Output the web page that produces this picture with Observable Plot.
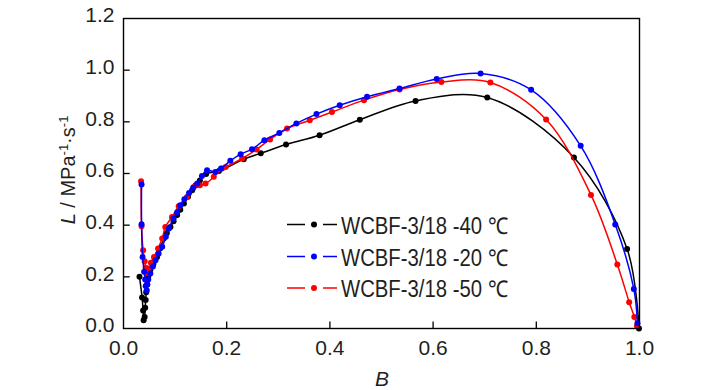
<!DOCTYPE html>
<html>
<head>
<meta charset="utf-8">
<script src="https://cdn.jsdelivr.net/npm/d3@7"></script>
<script src="https://cdn.jsdelivr.net/npm/@observablehq/plot@0.6"></script>
<style>
  body { margin: 0; background: white; }
  svg text { font-family: "Liberation Sans", Arial, sans-serif; }
</style>
</head>
<body>
<div id="chart"></div>
<script>
// ---- data ----
const seriesNames = ["WCBF-3/18 -40 ℃", "WCBF-3/18 -20 ℃", "WCBF-3/18 -50 ℃"];
const seriesColors = ["#000000", "#0000ff", "#ff0000"];

const black40 = [
  [0.031,0.200],[0.036,0.120],[0.038,0.070],[0.039,0.032],[0.041,0.045],[0.042,0.080],
  [0.043,0.110],[0.044,0.140],[0.046,0.170],[0.048,0.200],[0.052,0.226],[0.058,0.250],
  [0.065,0.277],[0.071,0.310],[0.078,0.348],[0.084,0.370],[0.091,0.393],[0.097,0.415],
  [0.104,0.439],[0.110,0.460],[0.117,0.484],[0.125,0.510],[0.133,0.535],[0.140,0.555],
  [0.148,0.573],[0.160,0.598],[0.185,0.610],[0.233,0.655],[0.266,0.678],[0.315,0.712],
  [0.380,0.748],[0.458,0.808],[0.566,0.881],[0.705,0.894],[0.873,0.662],[0.976,0.308],
  [0.999,0.000]
];
const blue20 = [
  [0.035,0.557],[0.035,0.404],[0.037,0.277],[0.040,0.220],[0.042,0.190],[0.043,0.165],
  [0.045,0.148],[0.046,0.170],[0.048,0.190],[0.052,0.213],[0.057,0.240],[0.062,0.264],
  [0.068,0.290],[0.075,0.316],[0.082,0.355],[0.088,0.387],[0.097,0.426],[0.104,0.450],
  [0.110,0.477],[0.118,0.500],[0.127,0.525],[0.135,0.545],[0.143,0.561],[0.152,0.590],
  [0.162,0.613],[0.178,0.606],[0.189,0.619],[0.207,0.649],[0.227,0.675],[0.249,0.694],
  [0.273,0.729],[0.302,0.757],[0.335,0.794],[0.374,0.830],[0.419,0.864],[0.472,0.897],
  [0.535,0.929],[0.607,0.966],[0.692,0.987],[0.790,0.924],[0.886,0.707],[0.953,0.403],
  [0.989,0.153],[0.996,0.020]
];
const red50 = [
  [0.034,0.570],[0.035,0.396],[0.038,0.303],[0.041,0.260],[0.043,0.235],[0.045,0.215],
  [0.048,0.230],[0.053,0.255],[0.059,0.277],[0.067,0.310],[0.075,0.348],[0.081,0.393],
  [0.094,0.432],[0.107,0.473],[0.123,0.509],[0.136,0.548],[0.148,0.555],[0.159,0.561],
  [0.175,0.587],[0.191,0.619],[0.198,0.625],[0.230,0.658],[0.258,0.693],[0.284,0.732],
  [0.317,0.774],[0.361,0.806],[0.404,0.838],[0.466,0.884],[0.535,0.925],[0.616,0.954],
  [0.711,0.952],[0.819,0.809],[0.906,0.517],[0.957,0.248],[0.980,0.102],[0.990,0.045],
  [0.995,0.010]
];
const xTicks = [0, 0.2, 0.4, 0.6, 0.8, 1.0];
const yTicks = [0, 0.2, 0.4, 0.6, 0.8, 1.0, 1.2];

// ---- table built from the arrays ----
const seriesData = [black40, blue20, red50];
const drawOrder = [0, 2, 1]; // black, red, blue on top
const textColor = "#231f20";

const marks = [];
for (const i of drawOrder) {
  const rows = seriesData[i].map(([B, L]) => ({B, L}));
  marks.push(Plot.line(rows, {x: "B", y: "L", stroke: seriesColors[i], strokeWidth: 1.5, curve: "catmull-rom"}));
  marks.push(Plot.dot(rows, {x: "B", y: "L", fill: seriesColors[i], r: 3}));
}

const plot = Plot.plot({
  width: 726,
  height: 390,
  marginLeft: 123,
  marginRight: 87,
  marginTop: 18,
  marginBottom: 62,
  style: {background: "white", color: textColor, fontFamily: "'Liberation Sans', Arial, sans-serif"},
  x: {domain: [0, 1], label: null},
  y: {domain: [0, 1.2], label: null},
  marks: [
    ...marks,
    Plot.ruleX(xTicks.slice(1, -1), {x: d => d, y1: 0, y2: 0.025, stroke: "black", strokeWidth: 1.3}),
    Plot.ruleY(yTicks.slice(1, -1), {y: d => d, x1: 0, x2: 0.013, stroke: "black", strokeWidth: 1.3}),
    Plot.frame({stroke: "black", strokeWidth: 1.4}),
    Plot.axisX({ticks: xTicks, tickFormat: d3.format(".1f"), tickSize: 0, tickPadding: 12, fontSize: 21, label: null}),
    Plot.axisY({ticks: yTicks, tickFormat: d3.format(".1f"), tickSize: 0, tickPadding: 9, dy: -3, fontSize: 21, label: null})
  ]
});
document.getElementById("chart").appendChild(plot);

const svg = d3.select(plot);

// x-axis title
svg.append("text")
  .attr("x", 382).attr("y", 386)
  .attr("text-anchor", "middle")
  .attr("font-size", 21).attr("font-style", "italic")
  .attr("fill", textColor)
  .text("B");

// y-axis title
const yt = svg.append("text")
  .attr("transform", "translate(75,170) rotate(-90)")
  .attr("text-anchor", "middle")
  .attr("font-size", 20)
  .attr("fill", textColor);
yt.append("tspan").attr("font-style", "italic").text("L");
yt.append("tspan").text(" / MPa");
yt.append("tspan").attr("font-size", 13).attr("baseline-shift", "55%").text("-1");
yt.append("tspan").text("·s");
yt.append("tspan").attr("font-size", 13).attr("baseline-shift", "55%").text("-1");

// legend
const legendRows = [0, 1, 2];
const legendY = [224.5, 256.5, 288];
legendRows.forEach((i, k) => {
  const y = legendY[k];
  const g = svg.append("g");
  g.append("line").attr("x1", 287).attr("x2", 305).attr("y1", y).attr("y2", y)
    .attr("stroke", seriesColors[i]).attr("stroke-width", 1.5);
  g.append("line").attr("x1", 323).attr("x2", 337).attr("y1", y).attr("y2", y)
    .attr("stroke", seriesColors[i]).attr("stroke-width", 1.5);
  g.append("circle").attr("cx", 314).attr("cy", y).attr("r", 3).attr("fill", seriesColors[i]);
  g.append("text").attr("x", 341).attr("y", y + 9)
    .attr("text-anchor", "start")
    .attr("font-size", 23).attr("fill", textColor)
    .attr("textLength", 167).attr("lengthAdjust", "spacingAndGlyphs")
    .text(seriesNames[i]);
});
</script>
</body>
</html>
